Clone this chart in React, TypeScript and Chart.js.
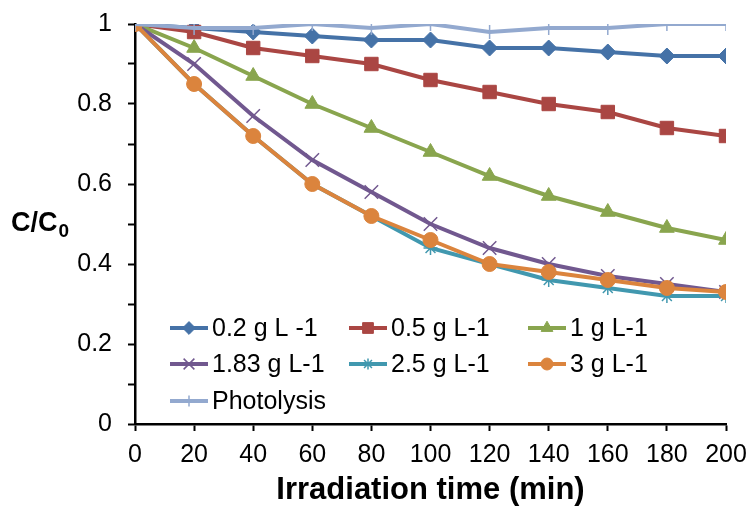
import React, { useEffect, useRef } from 'react';
import { Chart, registerables } from 'chart.js';
import { drawPoint } from 'chart.js/helpers';

Chart.register(...registerables);

const times = [0, 20, 40, 60, 80, 100, 120, 140, 160, 180, 200];
const seriesLabels = ['0.2 g L -1', '0.5 g L-1', '1 g L-1', '1.83 g L-1', '2.5 g L-1', '3 g L-1', 'Photolysis'];
const s02 = [1, 0.99, 0.98, 0.97, 0.96, 0.96, 0.94, 0.94, 0.93, 0.92, 0.92];
const s05 = [1, 0.98, 0.94, 0.92, 0.9, 0.86, 0.83, 0.8, 0.78, 0.74, 0.72];
const s1 = [1, 0.94, 0.87, 0.8, 0.74, 0.68, 0.62, 0.57, 0.53, 0.49, 0.46];
const s183 = [1, 0.9, 0.77, 0.66, 0.58, 0.5, 0.44, 0.4, 0.37, 0.35, 0.33];
const s25 = [1, 0.85, 0.72, 0.6, 0.52, 0.44, 0.4, 0.36, 0.34, 0.32, 0.32];
const s3 = [1, 0.85, 0.72, 0.6, 0.52, 0.46, 0.4, 0.38, 0.36, 0.34, 0.33];
const sPhoto = [1, 0.99, 0.99, 1, 0.99, 1, 0.98, 0.99, 0.99, 1, 1];
const yTickLabels = ['0', '0.2', '0.4', '0.6', '0.8', '1'];

const allSeries = [s02, s05, s1, s183, s25, s3, sPhoto];
const colors = ['#4572A7', '#AA4643', '#89A54E', '#71588F', '#4198AF', '#DB843D', '#93A9CF'];
const styles = ['rectRot', 'rect', 'triangle', 'crossRot', 'star', 'circle', 'cross'];
const radii = [8, 9.5, 8.5, 9.5, 7, 7.5, 7];
const borderW = [1, 1, 1, 1.5, 1.5, 1, 1.5];

const FONT = '"Liberation Sans", Arial, sans-serif';

const legendPlugin = {
  id: 'gridLegend',
  afterDraw(chart: any) {
    const ctx = chart.ctx;
    const cols = [170, 349, 528];
    const rows = [328, 364, 401];
    chart.data.datasets.forEach((ds: any, i: number) => {
      const x0 = cols[i % 3];
      const y = rows[Math.floor(i / 3)];
      ctx.save();
      ctx.strokeStyle = ds.borderColor;
      ctx.lineWidth = 4;
      ctx.beginPath();
      ctx.moveTo(x0, y);
      ctx.lineTo(x0 + 38, y);
      ctx.stroke();
      ctx.fillStyle = ds.pointBackgroundColor;
      ctx.strokeStyle = ds.pointBorderColor;
      ctx.lineWidth = ds.pointBorderWidth;
      drawPoint(ctx, { pointStyle: ds.pointStyle, rotation: 0, radius: ds.pointRadius * 0.8, borderWidth: ds.pointBorderWidth }, x0 + 19, y);
      ctx.fillStyle = '#000';
      ctx.font = `25px ${FONT}`;
      ctx.textBaseline = 'middle';
      ctx.textAlign = 'left';
      ctx.fillText(ds.label, x0 + 42, y + 1);
      ctx.restore();
    });
  },
};

const yTitlePlugin = {
  id: 'yTitle',
  afterDraw(chart: any) {
    const ctx = chart.ctx;
    ctx.save();
    ctx.fillStyle = '#000';
    ctx.textBaseline = 'alphabetic';
    ctx.textAlign = 'left';
    ctx.font = `bold 27px ${FONT}`;
    const t = 'C/C';
    ctx.fillText(t, 11, 231);
    const w = ctx.measureText(t).width;
    ctx.font = `bold 19px ${FONT}`;
    ctx.fillText('0', 11 + w + 1, 237);
    ctx.restore();
  },
};

export default function App() {
  const ref = useRef<HTMLCanvasElement | null>(null);
  useEffect(() => {
    if (!ref.current) return;
    const datasets = allSeries.map((vals, i) => ({
      label: seriesLabels[i],
      data: vals.map((v, j) => ({ x: times[j], y: v })),
      borderColor: colors[i],
      backgroundColor: colors[i],
      pointBackgroundColor: colors[i],
      pointBorderColor: colors[i],
      pointStyle: styles[i],
      pointRadius: radii[i],
      pointBorderWidth: borderW[i],
      borderWidth: 4,
      tension: 0,
      order: 6 - i,
    }));
    const chart = new Chart(ref.current, {
      type: 'line',
      data: { datasets },
      options: {
        animation: false,
        responsive: false,
        maintainAspectRatio: false,
        layout: { padding: { left: 0, top: 24, right: 27, bottom: 0 } },
        plugins: { legend: { display: false }, tooltip: { enabled: false } },
        scales: {
          x: {
            type: 'linear',
            min: 0,
            max: 200,
            afterFit: (s: any) => { s.height = 82; s.paddingLeft = 0; s.paddingRight = 0; s.paddingTop = 0; s.paddingBottom = 0; },
            ticks: { stepSize: 20, color: '#000', font: { family: FONT, size: 25 }, padding: 9, maxRotation: 0, autoSkip: false },
            grid: { drawOnChartArea: false, drawTicks: true, tickLength: 7, tickColor: '#000', tickWidth: 2 },
            border: { display: true, color: '#000', width: 2.5 },
            title: { display: true, text: 'Irradiation time (min)', color: '#000', font: { family: FONT, size: 31, weight: 'bold', lineHeight: 1.0 }, padding: { top: 0, bottom: 0 } },
          },
          y: {
            type: 'linear',
            min: 0,
            max: 1,
            afterFit: (s: any) => { s.width = 135; s.paddingTop = 0; s.paddingBottom = 0; s.paddingLeft = 0; s.paddingRight = 0; },
            ticks: {
              stepSize: 0.1,
              color: '#000',
              font: { family: FONT, size: 25 },
              padding: 16,
              autoSkip: false,
              callback: (v: any) => {
                const k = Math.round(Number(v) * 10);
                return k % 2 === 0 ? yTickLabels[k / 2] : '';
              },
            },
            grid: { drawOnChartArea: false, drawTicks: true, tickLength: 7, tickColor: '#000', tickWidth: 2 },
            border: { display: true, color: '#000', width: 2.5 },
          },
        },
      },
      plugins: [legendPlugin, yTitlePlugin],
    } as any);
    return () => chart.destroy();
  }, []);
  return (
    <div style={{ position: 'fixed', left: 0, top: 0, width: 753, height: 506, background: '#fff' }}>
      <canvas ref={ref} width={753} height={506} style={{ width: 753, height: 506 }} />
    </div>
  );
}
